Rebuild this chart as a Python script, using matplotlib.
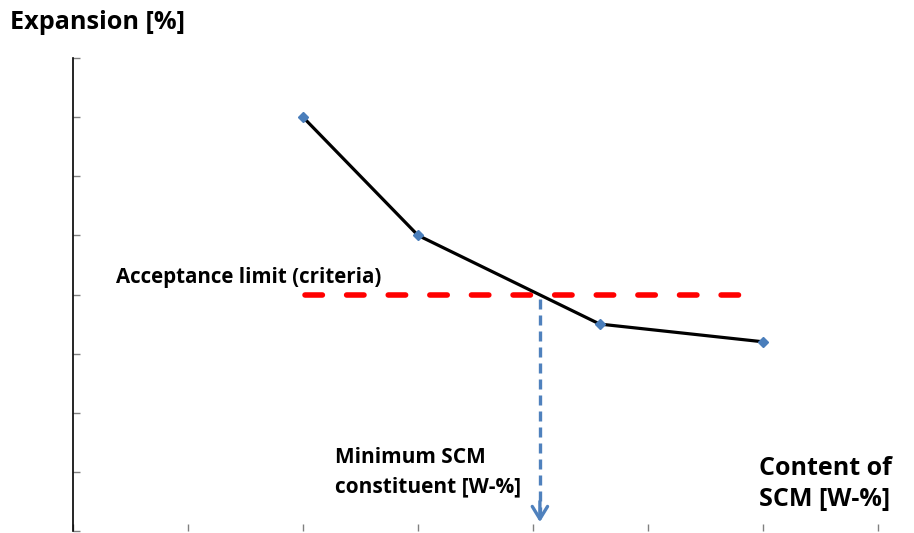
import matplotlib
matplotlib.use("Agg")
import matplotlib.pyplot as plt

# data
scm_content = [2, 3, 4.58, 6]
expansion = [7.0, 5.0, 3.5, 3.2]
limit_x = [2.02, 5.79]
limit_y = 4.0
min_scm = 4.06
x_ticks = [0, 1, 2, 3, 4, 5, 6, 7]
y_ticks = [0, 1, 2, 3, 4, 5, 6, 7, 8]

W, H = 914, 533
fig = plt.figure(figsize=(W / 100, H / 100), dpi=100)
ax = fig.add_axes([73 / W, 2 / H, (878 - 73) / W, (531 - 58) / H])

ax.plot(scm_content, expansion, color='black', linewidth=2.3, zorder=3)
ax.plot(scm_content, expansion, linestyle='none', marker='D', markersize=5.5,
        color='#4A7EBB', zorder=4)

ax.plot(limit_x, [limit_y, limit_y], color='#FF0000', linewidth=4,
        linestyle=(0, (3.13, 4.36)), dash_capstyle='round', zorder=2)

# minimum SCM drop line with open arrow head
ax.plot([min_scm, min_scm], [limit_y - 0.08, 0.2], color='#4F81BD', linewidth=2.4,
        linestyle=(0, (3.0, 1.8)), zorder=2)
ax.annotate('', xy=(min_scm, 0.15), xytext=(min_scm, 0.5),
            arrowprops=dict(arrowstyle='->,head_length=0.9,head_width=0.55',
                            color='#4F81BD', linewidth=2.4, shrinkA=0, shrinkB=0),
            zorder=2)

ax.set_xlim(x_ticks[0], x_ticks[-1])
ax.set_ylim(y_ticks[0], y_ticks[-1])
ax.set_xticks(x_ticks)
ax.set_yticks(y_ticks)
ax.set_xticklabels([])
ax.set_yticklabels([])
ax.tick_params(axis='both', direction='in', length=5, width=1, color='#808080')
for side in ['top', 'right', 'bottom']:
    ax.spines[side].set_visible(False)
ax.spines['left'].set_linewidth(1.2)

font = 'Open Sans'
fig.text(10 / W, 1 - 22 / H, 'Expansion [%]', fontsize=18.2, fontweight='bold',
         family=font, va='center', ha='left')
fig.text(116 / W, 1 - 277 / H, 'Acceptance limit (criteria)', fontsize=14.8,
         fontweight='bold', family=font, va='center', ha='left')
fig.text(335 / W, 1 - 472 / H, 'Minimum SCM\nconstituent [W-%]', fontsize=15,
         fontweight='bold', family=font, va='center', ha='left', linespacing=1.5)
fig.text(759 / W, 1 - 484 / H, 'Content of\nSCM [W-%]', fontsize=18,
         fontweight='bold', family=font, va='center', ha='left', linespacing=1.28)

fig.savefig('out.png', dpi=100)
